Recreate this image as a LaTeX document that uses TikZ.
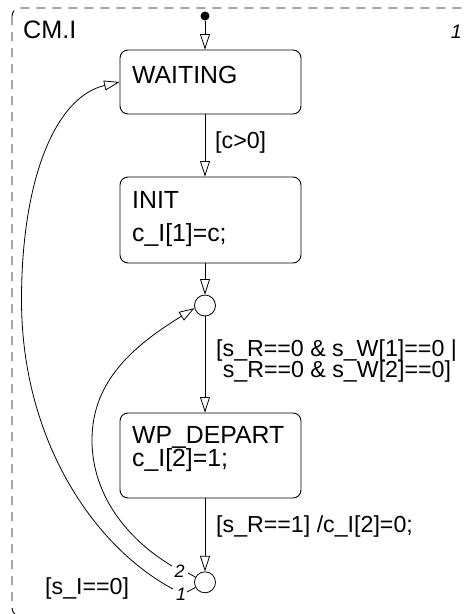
\documentclass[tikz,border=0pt]{standalone}
\usepackage{fontspec}
\setmainfont{Liberation Sans}
\usetikzlibrary{arrows.meta}
\begin{document}
\begin{tikzpicture}[x=1pt,y=-1pt,
  statebox/.style={draw, rounded corners=8pt, line width=0.9pt, minimum width=181pt, inner sep=0pt},
  statetext/.style={anchor=base west, inner sep=0pt, font=\fontsize{24.8}{26}\selectfont},
  lbl/.style={anchor=base west, inner sep=0pt, font=\fontsize{23.2}{24}\selectfont},
  junc/.style={draw, circle, minimum size=21pt, inner sep=0pt, line width=0.8pt},
  tr/.style={line width=0.8pt, -{Triangle[open,length=15.5pt,width=10pt]}},
  ord/.style={inner sep=0pt, font=\fontsize{18}{18}\selectfont\itshape},
  thin/.style={line width=0.8pt}
]
\useasboundingbox (0,0) rectangle (466,614);
\clip (0,0) rectangle (466,614);
% outer chart box
\draw[line width=0.9pt, black, dash pattern=on 9pt off 7pt, rounded corners=8pt] (12,8) rectangle (470,616);
\node[anchor=base west, inner sep=0pt, font=\fontsize{25.2}{26}\selectfont] (title) at (23,38) {CM.I};
\node[anchor=base east, inner sep=0pt, font=\fontsize{19.5}{20}\selectfont\itshape] (num) at (462,38) {1};

% states
\node[statebox, minimum height=64pt] (waiting) at (210.5,82) {};
\node[statebox, minimum height=86pt] (init) at (210.5,220) {};
\node[statebox, minimum height=85pt] (wp) at (210.5,455.5) {};
\node[statetext] (twaiting) at (132,83) {WAITING};
\node[statetext] (tinit) at (132,208) {INIT};
\node[statetext] (tinit2) at (132,241) {c\_I[1]=c;};
\node[statetext] (twp) at (132,443) {WP\_DEPART};
\node[statetext] (twp2) at (132,466) {c\_I[2]=1;};

% junctions
\node[circle, fill, inner sep=0pt, minimum size=9pt] (dot) at (205,16) {};
\node[junc] (j1) at (205,305.5) {};
\node[junc] (j2) at (205,582.3) {};

% transitions
\draw[tr] (dot) -- (waiting.north -| dot);
\draw[tr] (waiting.south -| dot) -- (init.north -| dot);
\draw[tr] (init.south -| dot) -- (j1);
\draw[tr] (j1) -- (wp.north -| dot);
\draw[tr] (wp.south -| dot) -- (j2);

% labels
\node[lbl] (l1) at (215,148) {[c>0]};
\node[lbl] (l2a) at (216,356) {[s\_R==0 \& s\_W[1]==0 |};
\node[lbl] (l2b) at (222.6,377) {s\_R==0 \& s\_W[2]==0]};
\node[lbl] (l3) at (216,532) {[s\_R==1] /c\_I[2]=0;};
\node[lbl] (l4) at (45,594) {[s\_I==0]};

% execution order marks
\node[ord, anchor=base west] (o2) at (174.5,577.5) {2};
\node[ord, anchor=base west] (o1) at (176,600) {1};
\coordinate (t2) at (188,573);
\coordinate (t1) at (187,592);
\draw[thin] (j2) -- (t2);
\draw[thin] (j2) -- (t1);

% looping transitions
\coordinate (c2s) at (172,566);
\coordinate (c1s) at (173,589);
\draw[tr] (c2s) .. controls (127,539) and (92,495) .. (92,440)
  .. controls (92,380) and (135,345) .. (j1.194);
\draw[tr] (c1s) .. controls (93.8,546.7) and (21.5,440) .. (21.5,300)
  .. controls (21.5,180) and (55,97) .. (waiting.west);
\end{tikzpicture}
\end{document}
